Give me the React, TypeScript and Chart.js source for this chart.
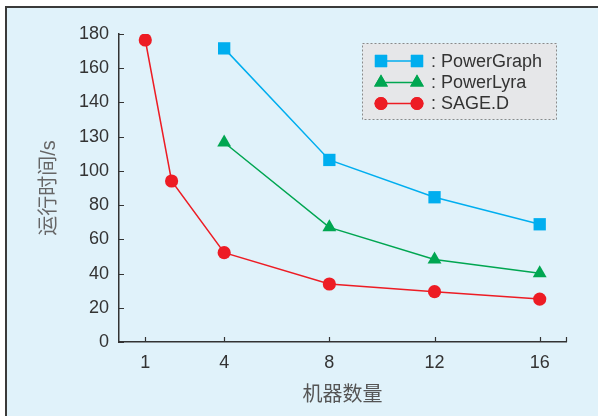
import React, { useEffect, useRef } from "react";
import { Chart, registerables } from "chart.js";
import { drawPoint } from "chart.js/helpers";

Chart.register(...registerables);

const seriesNames = ["PowerGraph", "PowerLyra", "SAGE.D"];
const machinesPG = [4, 8, 12, 16];
const powerGraph = [171.6, 106.4, 84.6, 68.8];
const machinesPL = [4, 8, 12, 16];
const powerLyra = [116.6, 67, 48.2, 40.2];
const machinesSD = [1, 2, 4, 8, 12, 16];
const sageD = [176.5, 94.1, 52.2, 33.9, 29.4, 25.1];
const xTicks = [1, 4, 8, 12, 16];
const yTickValues = [0, 20, 40, 60, 80, 100, 120, 140, 160, 180];
const yTickLabels = ["0", "20", "40", "60", "80", "100", "130", "140", "160", "180"];
const xTitle = "机器数量";
const yTitle = "运行时间/s";

const BLUE = "#00AEEF";
const GREEN = "#00A651";
const RED = "#ED1C24";
const FONT = "'Liberation Sans', 'Noto Sans CJK SC', sans-serif";

const framePlugin = {
  id: "frame",
  beforeDraw(chart: any) {
    const ctx = chart.ctx;
    ctx.save();
    ctx.fillStyle = "#ffffff";
    ctx.fillRect(0, 0, chart.width, chart.height);
    ctx.fillStyle = "#E0F2FA";
    ctx.fillRect(6, 7, chart.width - 6, chart.height - 7);
    ctx.strokeStyle = "#3a3a3a";
    ctx.lineWidth = 2;
    ctx.beginPath();
    ctx.moveTo(5, 7);
    ctx.lineTo(chart.width, 7);
    ctx.moveTo(6, 7);
    ctx.lineTo(6, chart.height);
    ctx.stroke();
    ctx.restore();
  },
  beforeDatasetsDraw(chart: any) {
    const ctx = chart.ctx;
    const xs = chart.scales.x;
    const ys = chart.scales.y;
    ctx.save();
    ctx.strokeStyle = "#333";
    ctx.lineWidth = 1.2;
    ctx.beginPath();
    [...xTicks, xs.max].forEach((v) => {
      const px = Math.round(xs.getPixelForValue(v)) + 0.5;
      ctx.moveTo(px, ys.bottom);
      ctx.lineTo(px, ys.bottom - 5);
    });
    yTickValues.forEach((v) => {
      const py = Math.round(ys.getPixelForValue(v)) + 0.5;
      ctx.moveTo(xs.left, py);
      ctx.lineTo(xs.left + 5, py);
    });
    ctx.stroke();
    ctx.restore();
  },
  afterDraw(chart: any) {
    const ctx = chart.ctx;
    ctx.save();
    // legend box
    const bx = 362.5, by = 43.5, bw = 194, bh = 76;
    ctx.fillStyle = "#E6E7E9";
    ctx.fillRect(bx, by, bw, bh);
    ctx.setLineDash([2, 2]);
    ctx.strokeStyle = "#8a8a8a";
    ctx.lineWidth = 1;
    ctx.strokeRect(bx, by, bw, bh);
    ctx.setLineDash([]);
    const rows = [61, 82.5, 103.5];
    chart.data.datasets.forEach((ds: any, i: number) => {
      const y = rows[i];
      const x1 = 381, x2 = 417;
      ctx.strokeStyle = ds.borderColor;
      ctx.lineWidth = 1.6;
      ctx.beginPath();
      ctx.moveTo(x1, y);
      ctx.lineTo(x2, y);
      ctx.stroke();
      ctx.fillStyle = ds.backgroundColor;
      const r = ds.legendRadius;
      const opts = { pointStyle: ds.pointStyle, radius: r, borderWidth: 0 };
      drawPoint(ctx, opts as any, x1, y);
      ctx.fill();
      drawPoint(ctx, opts as any, x2, y);
      ctx.fill();
      ctx.fillStyle = "#333";
      ctx.font = "18px " + FONT;
      ctx.textBaseline = "middle";
      ctx.textAlign = "left";
      ctx.fillText(": " + ds.label, 431, y + 1);
    });
    ctx.restore();
  },
};

export default function App() {
  const ref = useRef<HTMLCanvasElement>(null);
  useEffect(() => {
    document.body.style.margin = "0";
    const chart = new Chart(ref.current as HTMLCanvasElement, {
      type: "line",
      data: {
        datasets: [
          {
            label: seriesNames[0],
            data: machinesPG.map((x, i) => ({ x, y: powerGraph[i] })),
            borderColor: BLUE,
            backgroundColor: BLUE,
            pointStyle: "rect",
            pointRadius: 8.7,
            pointBorderWidth: 0,
            borderWidth: 1.5,
            legendRadius: 8.7,
          } as any,
          {
            label: seriesNames[1],
            data: machinesPL.map((x, i) => ({ x, y: powerLyra[i] })),
            borderColor: GREEN,
            backgroundColor: GREEN,
            pointStyle: "triangle",
            pointRadius: 8,
            pointBorderWidth: 0,
            borderWidth: 1.5,
            legendRadius: 8,
          } as any,
          {
            label: seriesNames[2],
            data: machinesSD.map((x, i) => ({ x, y: sageD[i] })),
            borderColor: RED,
            backgroundColor: RED,
            pointStyle: "circle",
            pointRadius: 6.6,
            pointBorderWidth: 0,
            borderWidth: 1.5,
            legendRadius: 6.5,
          } as any,
        ],
      },
      options: {
        responsive: false,
        animation: false,
        layout: { padding: { left: 0, top: 34, right: 32, bottom: 0 } },
        plugins: { legend: { display: false }, tooltip: { enabled: false } },
        scales: {
          x: {
            type: "linear",
            min: 0,
            max: 17,
            afterBuildTicks: (s: any) => {
              s.ticks = xTicks.map((v) => ({ value: v }));
            },
            afterFit: (s: any) => {
              s.height = 74;
            },
            grid: { display: false, drawTicks: false },
            border: { display: true, color: "#333", width: 1.5 },
            ticks: {
              color: "#333",
              font: { family: FONT, size: 18 },
              padding: 10,
              maxRotation: 0,
              autoSkip: false,
            },
            title: {
              display: true,
              text: xTitle,
              color: "#555",
              font: { family: FONT, size: 20 },
              padding: { top: 0, bottom: 9 },
            },
          },
          y: {
            type: "linear",
            min: 0,
            max: 180,
            afterBuildTicks: (s: any) => {
              s.ticks = yTickValues.map((v) => ({ value: v }));
            },
            afterFit: (s: any) => {
              s.width = 119;
            },
            grid: { display: false, drawTicks: false },
            border: { display: true, color: "#333", width: 1.5 },
            ticks: {
              color: "#333",
              font: { family: FONT, size: 18 },
              padding: 10,
              autoSkip: false,
              callback: (v: any) => {
                const idx = yTickValues.indexOf(Number(v));
                return idx >= 0 ? yTickLabels[idx] : "";
              },
            },
            title: {
              display: true,
              text: yTitle,
              color: "#666",
              font: { family: FONT, size: 20 },
              padding: { top: 37, bottom: 0 },
            },
          },
        },
      },
      plugins: [framePlugin],
    });
    return () => chart.destroy();
  }, []);
  return (
    <div style={{ width: 598, height: 416 }}>
      <canvas ref={ref} width={598} height={416} style={{ display: "block" }} />
    </div>
  );
}
